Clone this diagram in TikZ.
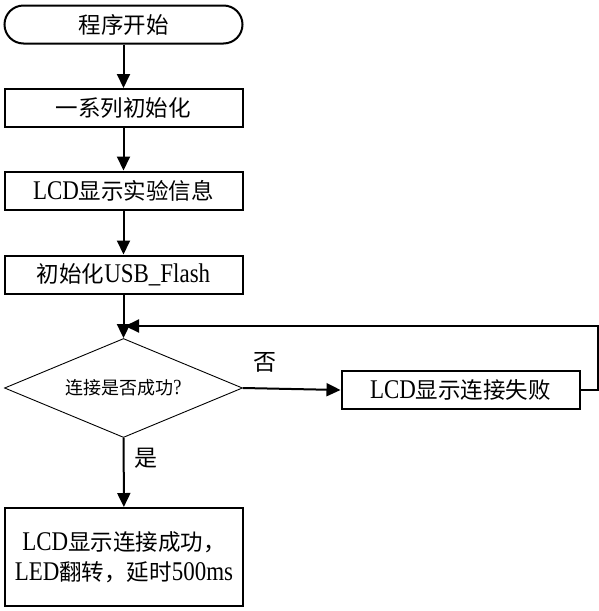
\documentclass[tikz,border=0pt]{standalone}
\usepackage{fontspec}
\setmainfont[Scale=1.2,FakeStretch=0.85]{Liberation Serif}
\newfontfamily\cjk{Noto Sans CJK SC}
\usetikzlibrary{shapes.geometric,arrows.meta}
\begin{document}
\begin{tikzpicture}[x=1pt,y=-1pt,
  box/.style={draw, line width=2pt, minimum width=238pt, minimum height=38pt, inner sep=0pt, align=center, font=\fontsize{22.5}{30}\selectfont},
  arr/.style={line width=2pt, -{Triangle[length=14pt,width=13pt]}},
  lbl/.style={font=\fontsize{23}{26}\selectfont\cjk, inner sep=0pt}
]
\useasboundingbox (0,0) rectangle (599,611);
\node[box, rounded corners=19pt] (start) at (123.5,24.5) {\cjk 程序开始};
\node[box] (init) at (123.5,108) {\cjk 一系列初始化};
\node[box] (lcd) at (123.5,190.5) {LCD{\cjk 显示实验信息}};
\node[box] (usb) at (123.5,274.5) {{\cjk 初始化}USB\_Flash};
\node[draw, diamond, line width=0.9pt, minimum width=238pt, minimum height=99pt, inner sep=0pt, aspect=2.4, font=\fontsize{18}{20}\selectfont] (dec) at (123.5,388) {{\cjk 连接是否成功}?};
\node[box] (fail) at (460.5,390) {LCD{\cjk 显示连接失败}};
\node[box, minimum height=98pt] (ok) at (124,557) {LCD{\cjk 显示连接成功，}\\LED{\cjk 翻转，延时}500ms};
\coordinate (m) at (125,326);
\node[lbl] (no) at (265,362) {否};
\node[lbl] (yes) at (146,458) {是};
\draw[arr] (start) -- (init);
\draw[arr] (init) -- (lcd);
\draw[arr] (lcd) -- (usb);
\draw[arr] (usb) -- (dec);
\draw[arr] (dec.east) -- (fail.west);
\draw[arr] (fail.east) -- ++(17,0) |- (m);
\draw[arr] (dec) -- (ok);
\end{tikzpicture}
\end{document}
